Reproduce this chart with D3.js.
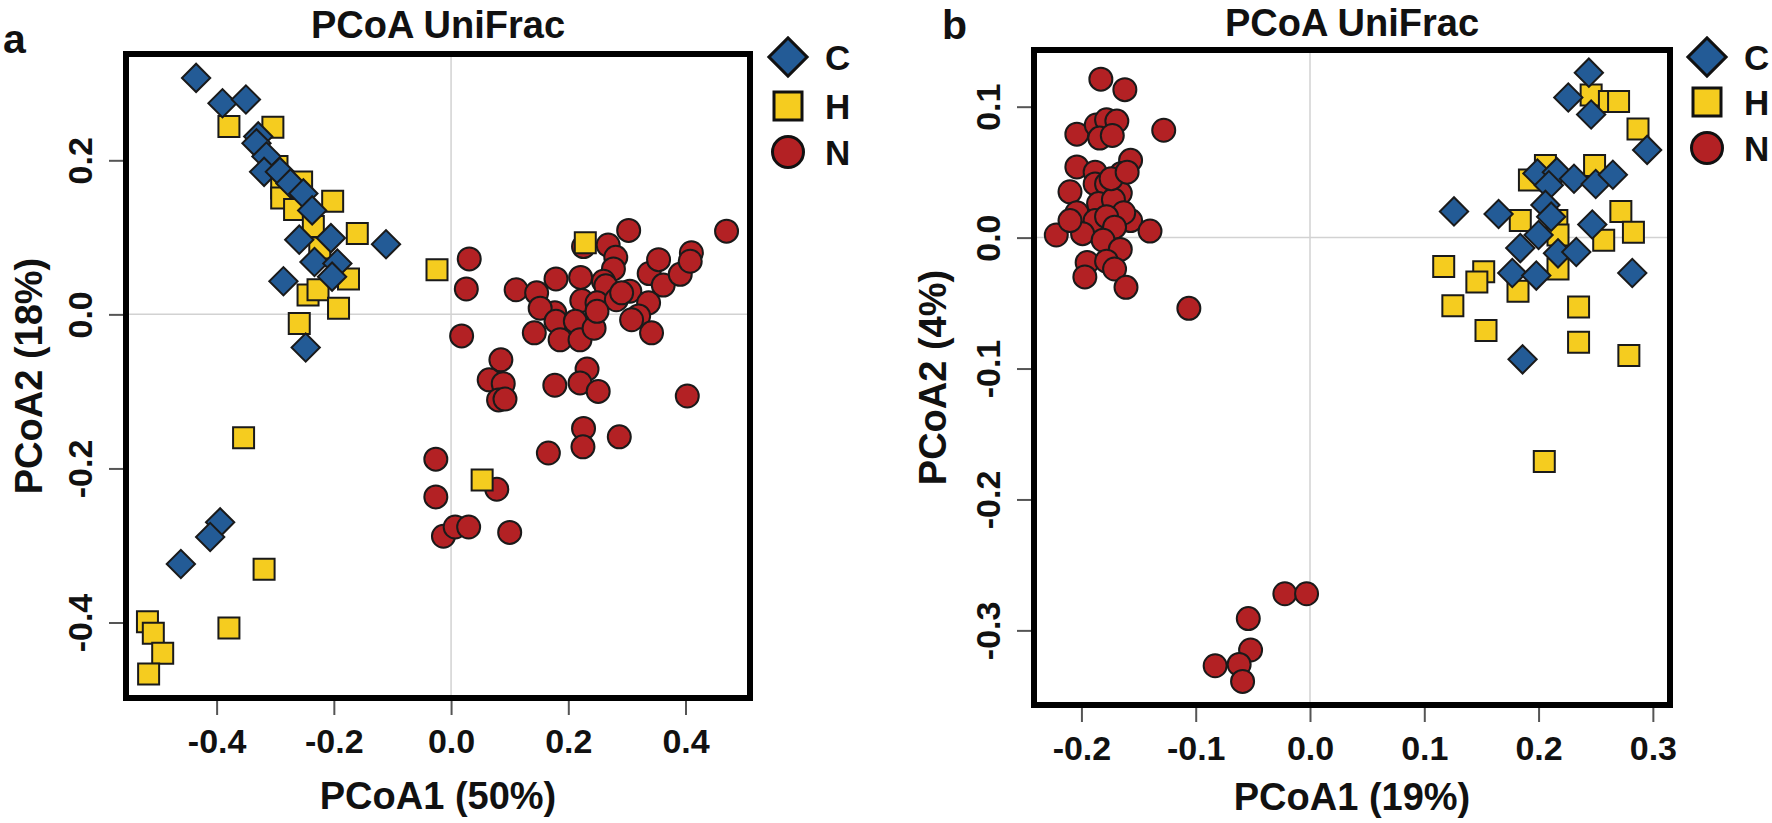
<!DOCTYPE html>
<meta charset="utf-8">
<script src="https://d3js.org/d3.v7.min.js"></script>
<style>
  body { margin: 0; background: #fff; }
  text { font-family: "Liberation Sans", Arial, sans-serif; font-weight: bold; fill: #111; }
</style>
<div id="chart"></div>
<script>

// groups and colours
var groups = ["C", "H", "N"];
var groupColors = ["#235b96", "#f5cc1f", "#b32124"];

// tick labels
var aTicksX = [-0.4, -0.2, 0.0, 0.2, 0.4];
var aTicksY = [-0.4, -0.2, 0.0, 0.2];
var bTicksX = [-0.2, -0.1, 0.0, 0.1, 0.2, 0.3];
var bTicksY = [-0.3, -0.2, -0.1, 0.0, 0.1];

// panel a : PCoA1 (50%) / PCoA2 (18%)
var aC = [[-0.435,0.307],[-0.390,0.274],[-0.350,0.279],[-0.329,0.231],[-0.332,0.222],[-0.315,0.205],
  [-0.319,0.185],[-0.292,0.185],[-0.274,0.170],[-0.252,0.157],[-0.237,0.135],[-0.259,0.097],
  [-0.205,0.099],[-0.111,0.091],[-0.233,0.068],[-0.194,0.066],[-0.203,0.049],[-0.286,0.043],
  [-0.248,-0.043],[-0.394,-0.270],[-0.411,-0.289],[-0.461,-0.324]];
var aH = [[-0.379,0.244],[-0.304,0.243],[-0.297,0.192],[-0.255,0.172],[-0.289,0.164],[-0.289,0.151],
  [-0.202,0.147],[-0.267,0.136],[-0.235,0.114],[-0.160,0.105],[-0.224,0.086],[-0.175,0.046],
  [-0.244,0.025],[-0.227,0.032],[-0.192,0.008],[-0.259,-0.012],[-0.024,0.058],[0.229,0.093],
  [-0.354,-0.160],[0.053,-0.215],[-0.319,-0.331],[-0.379,-0.407],[-0.518,-0.399],[-0.508,-0.414],
  [-0.492,-0.440],[-0.516,-0.467]];
var aN = [[0.031,0.072],[0.026,0.033],[0.018,-0.028],[0.111,0.032],[0.146,0.028],[0.179,0.046],
  [0.221,0.048],[0.303,0.109],[0.268,0.090],[0.226,0.088],[0.281,0.074],[0.277,0.059],
  [0.260,0.043],[0.264,0.037],[0.223,0.018],[0.249,0.015],[0.282,0.019],[0.305,0.030],
  [0.338,0.053],[0.354,0.071],[0.362,0.038],[0.391,0.052],[0.410,0.080],[0.408,0.069],
  [0.470,0.108],[0.337,0.015],[0.320,-0.002],[0.308,-0.007],[0.342,-0.024],[0.177,0.002],
  [0.152,0.008],[0.179,-0.009],[0.212,-0.009],[0.142,-0.024],[0.186,-0.033],[0.220,-0.033],
  [0.244,-0.018],[0.249,0.004],[0.291,0.028],[0.085,-0.059],[0.065,-0.085],[0.089,-0.090],
  [0.081,-0.111],[0.092,-0.110],[0.177,-0.092],[0.232,-0.071],[0.220,-0.089],[0.251,-0.100],
  [0.403,-0.106],[0.226,-0.148],[0.287,-0.159],[0.225,-0.172],[0.166,-0.180],[0.078,-0.227],
  [-0.026,-0.188],[-0.026,-0.237],[-0.013,-0.288],[0.007,-0.276],[0.030,-0.276],[0.100,-0.283]];

// panel b : PCoA1 (19%) / PCoA2 (4%)
var bC = [[0.244,0.126],[0.226,0.107],[0.246,0.094],[0.295,0.067],[0.199,0.049],[0.216,0.050],
  [0.231,0.045],[0.250,0.041],[0.265,0.048],[0.209,0.040],[0.126,0.020],[0.165,0.018],
  [0.206,0.025],[0.211,0.016],[0.247,0.010],[0.200,0.002],[0.184,-0.008],[0.217,-0.012],
  [0.233,-0.011],[0.177,-0.027],[0.198,-0.029],[0.282,-0.027],[0.186,-0.093]];
var bH = [[0.246,0.109],[0.262,0.104],[0.270,0.104],[0.287,0.083],[0.206,0.055],[0.249,0.055],
  [0.192,0.044],[0.272,0.020],[0.283,0.004],[0.184,0.013],[0.216,0.013],[0.217,0.002],
  [0.257,-0.002],[0.117,-0.022],[0.152,-0.026],[0.146,-0.034],[0.217,-0.024],[0.182,-0.041],
  [0.125,-0.052],[0.154,-0.071],[0.235,-0.053],[0.235,-0.080],[0.279,-0.090],[0.205,-0.171]];
var bN = [[-0.183,0.121],[-0.162,0.113],[-0.128,0.082],[-0.204,0.079],[-0.187,0.086],[-0.178,0.090],
  [-0.169,0.089],[-0.184,0.076],[-0.173,0.078],[-0.157,0.059],[-0.204,0.054],[-0.188,0.050],
  [-0.165,0.049],[-0.210,0.035],[-0.188,0.041],[-0.178,0.041],[-0.166,0.034],[-0.185,0.026],
  [-0.172,0.029],[-0.204,0.019],[-0.157,0.013],[-0.163,0.019],[-0.188,0.013],[-0.178,0.016],
  [-0.171,0.008],[-0.222,0.002],[-0.199,0.003],[-0.181,-0.002],[-0.140,0.005],[-0.166,-0.009],
  [-0.195,-0.019],[-0.178,-0.018],[-0.171,-0.024],[-0.197,-0.030],[-0.161,-0.038],[-0.106,-0.054],
  [-0.210,0.013],[-0.174,0.045],[-0.160,0.050],
  [-0.022,-0.272],[-0.003,-0.272],[-0.054,-0.291],[-0.052,-0.315],[-0.083,-0.327],[-0.062,-0.326],
  [-0.059,-0.339]];

var svg = d3.select("#chart").append("svg")
    .attr("width", 1772)
    .attr("height", 823);

var panels = [
  { letter: "a", series: [aC, aH, aN], ticksX: aTicksX, ticksY: aTicksY,
    xlab: "PCoA1 (50%)", ylab: "PCoA2 (18%)",
    left: 126, right: 750, top: 54, bottom: 698,
    xdom: [-0.5546, 0.510], ydom: [-0.498, 0.338],
    letterX: 3, letterY: 53, titleY: 38, xlabY: 809, ylabX: 42,
    xTickY: 753, yTickX: 92, legendY: [57, 106, 152], legendX: 788 },
  { letter: "b", series: [bC, bH, bN], ticksX: bTicksX, ticksY: bTicksY,
    xlab: "PCoA1 (19%)", ylab: "PCoA2 (4%)",
    left: 1034, right: 1670, top: 50, bottom: 705,
    xdom: [-0.2415, 0.315], ydom: [-0.357, 0.1433],
    letterX: 942, letterY: 39, titleY: 36, xlabY: 810, ylabX: 946,
    xTickY: 760, yTickX: 1000, legendY: [57, 102, 148], legendX: 1707 }
];

panels.forEach(function(p) {
  var g = svg.append("g");

  var x = d3.scaleLinear().domain(p.xdom).range([p.left, p.right]);
  var y = d3.scaleLinear().domain(p.ydom).range([p.bottom, p.top]);

  // zero lines
  g.append("line")
    .attr("x1", x(0)).attr("x2", x(0))
    .attr("y1", p.top).attr("y2", p.bottom)
    .attr("stroke", "#d2d2d2").attr("stroke-width", 1.5);
  g.append("line")
    .attr("x1", p.left).attr("x2", p.right)
    .attr("y1", y(0)).attr("y2", y(0))
    .attr("stroke", "#d2d2d2").attr("stroke-width", 1.5);

  // x axis
  var xa = g.append("g")
    .attr("transform", "translate(0," + (p.bottom + 3) + ")")
    .call(d3.axisBottom(x).tickValues(p.ticksX).tickSize(14)
      .tickFormat(function(d) { return d.toFixed(1); }));
  xa.select(".domain").remove();
  xa.selectAll(".tick line").attr("stroke", "#555").attr("stroke-width", 2);
  xa.selectAll(".tick text")
    .attr("y", p.xTickY - p.bottom - 3)
    .attr("dy", null)
    .style("font-size", "34px")
    .attr("fill", "#111");

  // y axis, labels turned like R
  var ya = g.append("g")
    .attr("transform", "translate(" + (p.left - 3) + ",0)")
    .call(d3.axisLeft(y).tickValues(p.ticksY).tickSize(14)
      .tickFormat(function(d) { return d.toFixed(1); }));
  ya.select(".domain").remove();
  ya.selectAll(".tick line").attr("stroke", "#555").attr("stroke-width", 2);
  ya.selectAll(".tick text")
    .attr("x", 0)
    .attr("y", p.yTickX - p.left + 3)
    .attr("dy", null)
    .attr("transform", "rotate(-90)")
    .attr("text-anchor", "middle")
    .style("font-size", "34px")
    .attr("fill", "#111");

  // points: N first, then H, then C on top
  var clip = "clip" + p.letter;
  g.append("clipPath").attr("id", clip)
    .append("rect")
    .attr("x", p.left).attr("y", p.top)
    .attr("width", p.right - p.left).attr("height", p.bottom - p.top);

  var pts = g.append("g").attr("clip-path", "url(#" + clip + ")");

  pts.selectAll(".n")
    .data(p.series[2])
    .enter().append("circle")
      .attr("cx", function(d) { return x(d[0]); })
      .attr("cy", function(d) { return y(d[1]); })
      .attr("r", 11.5)
      .attr("fill", groupColors[2])
      .attr("stroke", "#1a1a1a")
      .attr("stroke-width", 2);

  pts.selectAll(".h")
    .data(p.series[1])
    .enter().append("path")
      .attr("d", d3.symbol().type(d3.symbolSquare).size(21 * 21))
      .attr("transform", function(d) { return "translate(" + x(d[0]) + "," + y(d[1]) + ")"; })
      .attr("fill", groupColors[1])
      .attr("stroke", "#1a1a1a")
      .attr("stroke-width", 2);

  pts.selectAll(".c")
    .data(p.series[0])
    .enter().append("path")
      .attr("d", d3.symbol().type(d3.symbolSquare).size(20 * 20))
      .attr("transform", function(d) { return "translate(" + x(d[0]) + "," + y(d[1]) + ") rotate(45)"; })
      .attr("fill", groupColors[0])
      .attr("stroke", "#1a1a1a")
      .attr("stroke-width", 2);

  // frame
  g.append("rect")
    .attr("x", p.left).attr("y", p.top)
    .attr("width", p.right - p.left).attr("height", p.bottom - p.top)
    .attr("fill", "none")
    .attr("stroke", "#000")
    .attr("stroke-width", 6);

  // texts
  g.append("text")
    .attr("x", (p.left + p.right) / 2).attr("y", p.titleY)
    .attr("text-anchor", "middle")
    .style("font-size", "38px")
    .text("PCoA UniFrac");

  g.append("text")
    .attr("x", p.letterX).attr("y", p.letterY)
    .style("font-size", "41px")
    .text(p.letter);

  g.append("text")
    .attr("x", (p.left + p.right) / 2).attr("y", p.xlabY)
    .attr("text-anchor", "middle")
    .style("font-size", "38px")
    .text(p.xlab);

  g.append("text")
    .attr("transform", "translate(" + p.ylabX + "," + ((p.top + p.bottom) / 2) + ") rotate(-90)")
    .attr("text-anchor", "middle")
    .style("font-size", "38px")
    .text(p.ylab);

  // legend
  var leg = g.selectAll(".legend")
    .data(groups)
    .enter().append("g")
      .attr("transform", function(d, i) { return "translate(" + p.legendX + "," + p.legendY[i] + ")"; });

  leg.append("path")
    .attr("d", function(d, i) {
      if (i == 2) return d3.symbol().type(d3.symbolCircle).size(Math.PI * 15.5 * 15.5)();
      if (i == 1) return d3.symbol().type(d3.symbolSquare).size(28 * 28)();
      return d3.symbol().type(d3.symbolSquare).size(27 * 27)();
    })
    .attr("transform", function(d, i) { return i == 0 ? "rotate(45)" : null; })
    .attr("fill", function(d, i) { return groupColors[i]; })
    .attr("stroke", "#111")
    .attr("stroke-width", 3);

  leg.append("text")
    .attr("x", 37)
    .attr("y", 13)
    .style("font-size", "35px")
    .text(function(d) { return d; });
});

</script>
